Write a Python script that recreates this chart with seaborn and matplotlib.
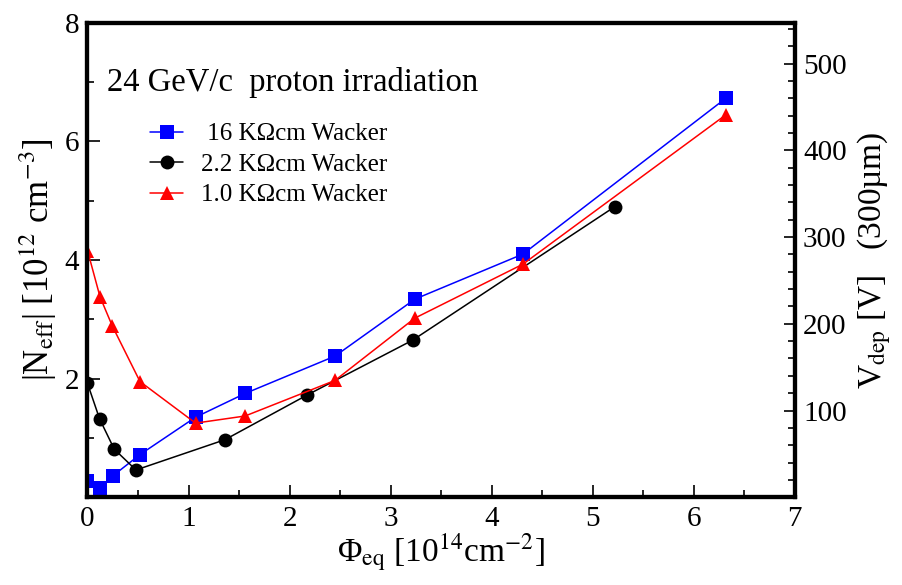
import numpy as np
import pandas as pd
import matplotlib
matplotlib.use("Agg")
import matplotlib.pyplot as plt
import seaborn as sns
from matplotlib.ticker import MultipleLocator, FixedLocator

# ---------------------------------------------------------------
# data: fluence [1e14 cm^-2] vs |Neff| [1e12 cm^-3]
# ---------------------------------------------------------------
phi_16k = [0.0, 0.12, 0.25, 0.52, 1.07, 1.56, 2.45, 3.24, 4.31, 6.32]
neff_16k = [0.28, 0.15, 0.36, 0.72, 1.35, 1.75, 2.38, 3.34, 4.10, 6.73]

phi_2k2 = [0.0, 0.12, 0.265, 0.48, 1.36, 2.17, 3.22, 5.22]
neff_2k2 = [1.92, 1.32, 0.81, 0.46, 0.97, 1.72, 2.65, 4.90]

phi_1k0 = [0.0, 0.124, 0.245, 0.52, 1.07, 1.56, 2.45, 3.24, 4.31, 6.32]
neff_1k0 = [4.16, 3.38, 2.89, 1.95, 1.25, 1.37, 1.97, 3.02, 3.93, 6.45]

labels = [" 16 KΩcm Wacker", "2.2 KΩcm Wacker", "1.0 KΩcm Wacker"]
colors = ["#0000ff", "#000000", "#ff0000"]
markers = ["s", "o", "^"]

x_ticks = [0, 1, 2, 3, 4, 5, 6, 7]
y_ticks = [2, 4, 6, 8]
v_ticks = [100, 200, 300, 400, 500]
V_MAX = 547  # right axis top (same as |Neff| = 8)

sns.set_style("white")
plt.rcParams['font.family'] = ['Liberation Serif', 'DejaVu Serif']
plt.rcParams['mathtext.fontset'] = 'stix'
plt.rcParams['text.color'] = 'black'
plt.rcParams['axes.labelcolor'] = 'black'
plt.rcParams['xtick.color'] = 'black'
plt.rcParams['ytick.color'] = 'black'

fig = plt.figure(figsize=(9.02, 5.85), dpi=100)
ax = fig.add_axes([0.097, 0.150, 0.784, 0.811])

series = [(phi_16k, neff_16k), (phi_2k2, neff_2k2), (phi_1k0, neff_1k0)]
for (xs, ys), lab, col, mk in zip(series, labels, colors, markers):
    df = pd.DataFrame({"phi": xs, "neff": ys})
    sns.lineplot(data=df, x="phi", y="neff", ax=ax, sort=False, color=col,
                 marker=mk, markersize=10, markeredgewidth=0, linewidth=1.1,
                 label=lab)

ax.set_xlim(0, 7)
ax.set_ylim(0, 8)
ax.xaxis.set_major_locator(FixedLocator(x_ticks))
ax.xaxis.set_minor_locator(MultipleLocator(0.5))
ax.yaxis.set_major_locator(FixedLocator(y_ticks))
ax.yaxis.set_minor_locator(MultipleLocator(1))
ax.tick_params(axis="both", which="major", direction="in", length=9, width=1.2,
               labelsize=21, left=True, bottom=True, top=False, right=False, pad=6)
ax.tick_params(axis="both", which="minor", direction="in", length=5, width=1.2,
               left=True, bottom=True, top=False, right=False)
for s in ax.spines.values():
    s.set_linewidth(3)
    s.set_color("black")

ax.set_xlabel("Φ$_{\\rm eq}$ [10$^{14}$cm$^{-2}$]", fontsize=24, labelpad=0)
ax.set_ylabel("|N$_{\\rm eff}$| [10$^{12}$ cm$^{-3}$]", fontsize=25, labelpad=4)

# right axis: depletion voltage for 300 um
ax2 = ax.twinx()
ax2.set_ylim(0, V_MAX)
ax2.yaxis.set_major_locator(FixedLocator(v_ticks))
ax2.yaxis.set_minor_locator(MultipleLocator(20))
ax2.tick_params(axis="y", which="major", direction="in", length=8, width=1.2,
                labelsize=21, left=False, right=True, pad=6)
ax2.tick_params(axis="y", which="minor", direction="in", length=5, width=1.2,
                left=False, right=True)
for s in ax2.spines.values():
    s.set_linewidth(3)
    s.set_color("black")
ax2.set_ylabel("V$_{\\rm dep}$ [V]   (300µm)", fontsize=24, labelpad=6)

ax.text(0.027, 0.875, "24 GeV/c  proton irradiation", transform=ax.transAxes,
        fontsize=23.5, ha="left", va="center")

leg = ax.legend(loc="upper left", bbox_to_anchor=(0.088, 0.789), frameon=False,
                fontsize=18, handlelength=1.35, handletextpad=0.7,
                labelspacing=0.32, borderaxespad=0, borderpad=0)

fig.savefig("out.png", dpi=100)
